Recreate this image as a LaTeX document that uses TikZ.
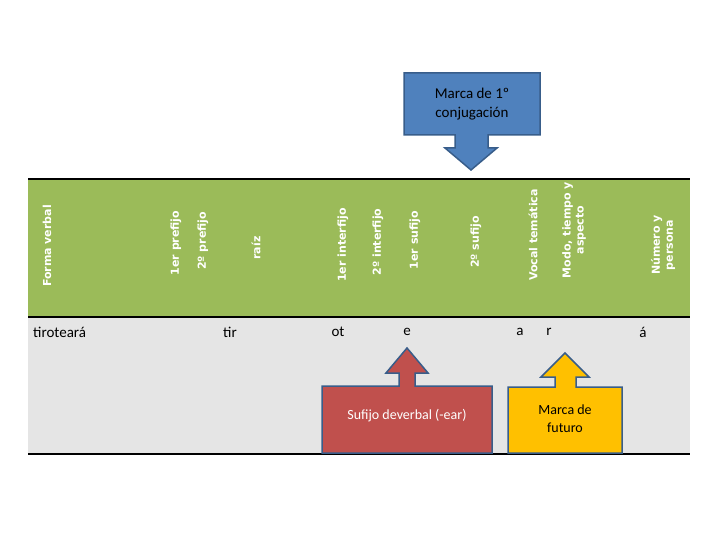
\documentclass[tikz,border=0pt]{standalone}
\usepackage{fontspec}
\setmainfont{Carlito}
\newfontfamily\headfont{DejaVu Sans}
\begin{document}
\begin{tikzpicture}[x=1pt,y=-1pt]
\tikzstyle{head}=[rotate=90,text=white,font=\headfont\bfseries\fontsize{11}{13}\selectfont,align=center,inner sep=0pt]
\tikzstyle{word}=[font=\fontsize{15}{17}\selectfont,inner sep=0pt]
\tikzstyle{callout}=[line width=1.5pt,line join=miter]
\useasboundingbox (0,0) rectangle (720,540);
% header band and body
\fill[green!45!olive!70!white,fill={rgb,255:red,155;green,187;blue,89}] (28,179) rectangle (690,317);
\fill[black!10] (28,317) rectangle (690,453);
\draw[line width=2pt] (28,179) -- (690,179);
\draw[line width=2pt] (28,317) -- (690,317);
\draw[line width=2pt] (28,454) -- (690,454);
% column titles
\node [head] (forma) at (47,246) {Forma verbal};
\node [head] (pref1) at (176,243) {1er prefijo};
\node [head] (pref2) at (203,241) {2º prefijo};
\node [head] (raiz) at (256,248) {raíz};
\node [head] (inter1) at (343,245) {1er interfijo};
\node [head] (inter2) at (378,242) {2º interfijo};
\node [head] (suf1) at (415,240) {1er sufijo};
\node [head] (suf2) at (476,242) {2º sufijo};
\node [head] (vocal) at (533,235) {Vocal temática};
\node [head] (modo) at (574,230) {Modo, tiempo y\\aspecto};
\node [head] (numero) at (663,245) {Número y\\persona};
% the word split up
\node [word,anchor=west] (w) at (33,332) {tiroteará};
\node [word] (tir) at (230,332) {tir};
\node [word] (ot) at (338,332) {ot};
\node [word] (e) at (407,332) {e};
\node [word] (a) at (520,332) {a};
\node [word] (r) at (549,332) {r};
\node [word] (acc) at (643,332) {á};
% callouts
\draw[callout,draw={rgb,255:red,56;green,93;blue,138},fill={rgb,255:red,79;green,129;blue,189}]
  (404,73) -- (540,73) -- (540,135) -- (488,135) -- (488,148) -- (497,148) -- (471,170)
  -- (445,148) -- (455,148) -- (455,135) -- (404,135) -- cycle;
\node [font=\fontsize{15}{19}\selectfont,align=center] (conj) at (472,104) {Marca de 1º\\conjugación};
\draw[callout,draw={rgb,255:red,56;green,93;blue,138},fill={rgb,255:red,192;green,80;blue,77}]
  (322,386) -- (399,386) -- (399,373) -- (386,373) -- (407,348) -- (428,373) -- (415,373)
  -- (415,386) -- (492,386) -- (492,453) -- (322,453) -- cycle;
\node [font=\fontsize{14}{16}\selectfont,text=white] (deverb) at (407,416) {Sufijo deverbal (-ear)};
\draw[callout,draw={rgb,255:red,56;green,93;blue,138},fill={rgb,255:red,255;green,192;blue,0}]
  (508,387) -- (555,387) -- (555,377) -- (541,377) -- (565,353) -- (589,377) -- (576,377)
  -- (576,387) -- (622,387) -- (622,453) -- (508,453) -- cycle;
\node [font=\fontsize{14}{18}\selectfont,align=center] (futuro) at (565,419) {Marca de\\futuro};
\end{tikzpicture}
\end{document}
